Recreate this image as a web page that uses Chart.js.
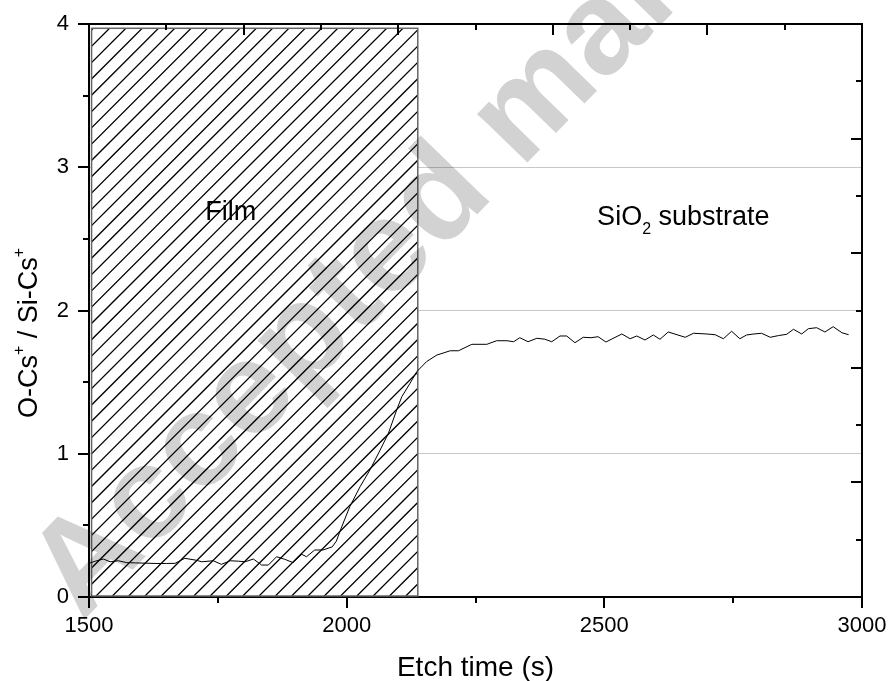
<!DOCTYPE html>
<html>
<head>
<meta charset="utf-8">
<title>O-Cs+ / Si-Cs+ profile</title>
<script src="https://cdn.jsdelivr.net/npm/chart.js@4.4.1/dist/chart.umd.min.js"></script>
<style>
  html, body { margin: 0; padding: 0; background: #fff; }
  canvas { display: block; }
</style>
</head>
<body>
<canvas id="profileChart" width="888" height="681"></canvas>
<script>
// Etch time (s) and O-Cs+/Si-Cs+ ratio
const etchTime = [
    1500, 1512, 1528, 1541, 1557, 1573, 1590, 1610, 1630, 1650,
    1667, 1686, 1706, 1719, 1741, 1757, 1774, 1790, 1803, 1819,
    1835, 1848, 1864, 1880, 1896, 1913, 1922, 1938, 1954, 1972,
    1980, 1988, 2006, 2026, 2045, 2065, 2081, 2097, 2107, 2123,
    2136, 2155, 2175, 2201, 2217, 2243, 2272, 2291, 2311, 2324,
    2336, 2352, 2369, 2384, 2398, 2414, 2427, 2443, 2459, 2474,
    2488, 2503, 2534, 2550, 2563, 2579, 2595, 2608, 2624, 2641,
    2657, 2673, 2699, 2715, 2731, 2747, 2763, 2776, 2790, 2805,
    2822, 2838, 2854, 2867, 2883, 2896, 2912, 2928, 2944, 2961,
    2974
];
const ratio = [
    0.235, 0.250, 0.265, 0.246, 0.253, 0.240, 0.238, 0.236, 0.234, 0.234,
    0.235, 0.270, 0.258, 0.246, 0.253, 0.228, 0.253, 0.250, 0.246, 0.265,
    0.223, 0.223, 0.281, 0.263, 0.240, 0.298, 0.281, 0.328, 0.328, 0.350,
    0.390, 0.468, 0.630, 0.770, 0.886, 1.026, 1.143, 1.305, 1.398, 1.492,
    1.573, 1.643, 1.689, 1.719, 1.719, 1.764, 1.764, 1.789, 1.789, 1.782,
    1.810, 1.782, 1.806, 1.800, 1.782, 1.822, 1.822, 1.775, 1.813, 1.810,
    1.817, 1.780, 1.836, 1.803, 1.822, 1.794, 1.829, 1.799, 1.850, 1.831,
    1.813, 1.841, 1.836, 1.831, 1.803, 1.855, 1.803, 1.829, 1.836, 1.841,
    1.813, 1.825, 1.834, 1.869, 1.836, 1.873, 1.880, 1.850, 1.887, 1.845,
    1.831
];

// hatched film region, in data units
const filmRange = [1505, 2138];
const filmTop = 3.97;

const xMajorTicks = [1500, 2000, 2500, 3000];
const xMinorTicks = [1750, 2250, 2750];
const yMajorTicks = [0, 1, 2, 3, 4];
const yMinorTicks = [0.5, 1.5, 2.5, 3.5];
const topMajorTicks = [1800, 2100, 2400, 2700];
const topMinorTicks = [1650, 1950, 2250, 2550, 2850];
const rightMajorTicks = [0.8, 1.6, 2.4, 3.2];
const rightMinorTicks = [0.4, 1.2, 2.0, 2.8, 3.6];

const filmLabel = { x: 1775, y: 2.63 };
const substrateLabel = { x: 2486, y: 2.60 };

const FONT = "'Liberation Sans', Arial, sans-serif";

function drawRich(ctx, parts, x, y) {
    let cx = x;
    parts.forEach((p) => {
        const small = p.sup || p.sub;
        ctx.font = (small ? "16px " : "27px ") + FONT;
        const dy = p.sup ? -13 : p.sub ? 9 : 0;
        ctx.fillText(p.t, cx, y + dy);
        cx += ctx.measureText(p.t).width;
    });
}

// keep tick labels from pushing the plot area around
function fixBox(size) {
    return (s) => {
        if (s.isHorizontal()) s.height = size;
        else s.width = size;
        s.paddingLeft = 0;
        s.paddingRight = 0;
        s.paddingTop = 0;
        s.paddingBottom = 0;
    };
}

const filmPlugin = {
    id: "filmRegion",
    beforeDatasetsDraw(chart) {
        const { ctx, scales: { x, y } } = chart;
        const left = x.getPixelForValue(filmRange[0]);
        const right = x.getPixelForValue(filmRange[1]);
        const top = y.getPixelForValue(filmTop);
        const bottom = y.getPixelForValue(0) - 1;
        const h = bottom - top;
        const gap = 16.3;

        ctx.save();
        ctx.fillStyle = "#fff";
        ctx.fillRect(left, top, right - left, h);
        ctx.beginPath();
        ctx.rect(left, top, right - left, h);
        ctx.clip();
        ctx.strokeStyle = "#000";
        ctx.lineWidth = 1.3;
        ctx.beginPath();
        for (let xt = left + 18 - gap; xt < right + h + gap; xt += gap) {
            ctx.moveTo(xt, top);
            ctx.lineTo(xt - h, bottom);
        }
        ctx.stroke();
        ctx.restore();

        ctx.save();
        ctx.strokeStyle = "#666";
        ctx.lineWidth = 1.5;
        ctx.strokeRect(left, top, right - left, h);
        ctx.restore();
    }
};

const decorPlugin = {
    id: "decor",
    afterDraw(chart) {
        const { ctx, chartArea: a, scales: { x, y } } = chart;

        // tick marks: bottom/left outward, top/right inward
        ctx.save();
        ctx.strokeStyle = "#000";
        ctx.lineWidth = 2;
        ctx.beginPath();
        const vTicks = (values, y0, len) => values.forEach((v) => {
            const p = Math.round(x.getPixelForValue(v));
            ctx.moveTo(p, y0);
            ctx.lineTo(p, y0 + len);
        });
        const hTicks = (values, x0, len) => values.forEach((v) => {
            const p = Math.round(y.getPixelForValue(v));
            ctx.moveTo(x0, p);
            ctx.lineTo(x0 - len, p);
        });
        vTicks(xMajorTicks, a.bottom, 11);
        vTicks(xMinorTicks, a.bottom, 6);
        vTicks(topMajorTicks, a.top, 11);
        vTicks(topMinorTicks, a.top, 6);
        hTicks(yMajorTicks, a.left, 11);
        hTicks(yMinorTicks, a.left, 6);
        hTicks(rightMajorTicks, a.right, 11);
        hTicks(rightMinorTicks, a.right, 6);
        ctx.stroke();
        ctx.restore();

        ctx.save();
        ctx.fillStyle = "#000";
        ctx.textBaseline = "alphabetic";

        // y axis title with superscripts
        ctx.translate(37, 418);
        ctx.rotate(-Math.PI / 2);
        drawRich(ctx, [
            { t: "O-Cs" }, { t: "+", sup: true }, { t: " / Si-Cs" }, { t: "+", sup: true }
        ], 0, 0);
        ctx.setTransform(1, 0, 0, 1, 0, 0);

        // region labels
        ctx.font = "27px " + FONT;
        ctx.textAlign = "center";
        ctx.fillText("Film", x.getPixelForValue(filmLabel.x), y.getPixelForValue(filmLabel.y));
        ctx.textAlign = "left";
        drawRich(ctx, [{ t: "SiO" }, { t: "2", sub: true }, { t: " substrate" }],
            x.getPixelForValue(substrateLabel.x), y.getPixelForValue(substrateLabel.y));
        ctx.restore();

        // watermark
        ctx.save();
        ctx.globalCompositeOperation = "multiply";
        ctx.fillStyle = "#d2d2d2";
        ctx.font = "bold 132px " + FONT;
        ctx.translate(82, 622);
        ctx.rotate(-Math.PI * 0.255);
        ctx.fillText("Accepted manuscript", 0, 0);
        ctx.restore();
    }
};

const border = { display: true, color: "#000", width: 2 };

new Chart(document.getElementById("profileChart").getContext("2d"), {
    type: "line",
    plugins: [filmPlugin, decorPlugin],
    data: {
        datasets: [{
            data: etchTime.map((t, i) => ({ x: t, y: ratio[i] })),
            borderColor: "#000",
            borderWidth: 1,
            pointRadius: 0,
            tension: 0,
            fill: false
        }]
    },
    options: {
        responsive: false,
        animation: false,
        devicePixelRatio: 1,
        layout: { padding: { top: 24, right: 26, left: 0, bottom: 0 } },
        plugins: {
            legend: { display: false },
            tooltip: { enabled: false }
        },
        scales: {
            x: {
                type: "linear",
                position: "bottom",
                min: 1500,
                max: 3000,
                afterFit: fixBox(84),
                grid: { display: false, drawTicks: false },
                border,
                ticks: {
                    stepSize: 500,
                    padding: 16,
                    color: "#000",
                    font: { family: FONT, size: 22 },
                    callback: (v) => String(v)
                },
                title: {
                    display: true,
                    text: "Etch time (s)",
                    color: "#000",
                    font: { family: FONT, size: 28 },
                    padding: { top: 0, bottom: -4 }
                }
            },
            x2: {
                type: "linear",
                position: "top",
                min: 1500,
                max: 3000,
                afterFit: fixBox(0),
                grid: { display: false, drawTicks: false },
                border,
                ticks: { display: false }
            },
            y: {
                position: "left",
                min: 0,
                max: 4,
                afterFit: fixBox(89),
                grid: {
                    drawTicks: false,
                    lineWidth: 1,
                    color: (c) => (c.tick && c.tick.value > 0 && c.tick.value < 4 ? "#c8c8c8" : "rgba(0,0,0,0)")
                },
                border,
                ticks: {
                    stepSize: 1,
                    padding: 20,
                    color: "#000",
                    font: { family: FONT, size: 22 },
                    callback: (v) => String(v)
                }
            },
            y2: {
                position: "right",
                min: 0,
                max: 4,
                afterFit: fixBox(0),
                grid: { display: false, drawTicks: false },
                border,
                ticks: { display: false }
            }
        }
    }
});
</script>
</body>
</html>
